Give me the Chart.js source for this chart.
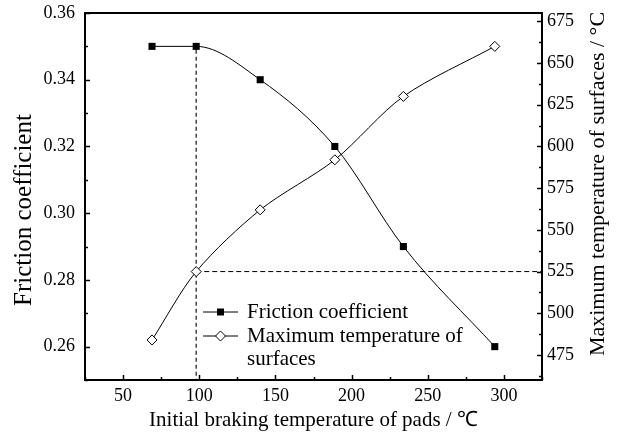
<!DOCTYPE html>
<html>
<head>
<meta charset="utf-8">
<script src="https://cdn.jsdelivr.net/npm/chart.js@4/dist/chart.umd.min.js"></script>
<style>
  body { margin: 0; background: #fff; }
  canvas { display: block; }
</style>
</head>
<body>
<canvas id="padChart" width="622" height="435"></canvas>
<script>
// —————— DATA ——————
const padTemps = [69, 98, 140, 189, 234, 294];          // initial braking temperature of pads, ℃
const frictionCoef = [0.35, 0.35, 0.34, 0.32, 0.29, 0.26];
const maxSurfTemp = [484, 525, 562, 592, 630, 660];      // maximum temperature of surfaces, ℃

const xTicks = [50, 100, 150, 200, 250, 300];
const yTicks = [0.26, 0.28, 0.30, 0.32, 0.34, 0.36];
const y2Ticks = [475, 500, 525, 550, 575, 600, 625, 650, 675];

// dashed guide lines
const markPadTemp = 98;
const markFriction = [0.349, 0.25];
const markSurfTemp = 525;

const serif = '"Liberation Serif", "Times New Roman", serif';

// minor ticks sit halfway between the major ones
function minorsOf(ticks, min, max) {
  const step = ticks[1] - ticks[0];
  const out = [];
  for (let v = ticks[0] - step / 2; v <= max + 1e-9; v += step) {
    if (v >= min - 1e-9) out.push(+v.toFixed(4));
  }
  return out;
}

// no extra room for half-labels at the axis ends, chart area is set by layout padding
function noEndPadding(s) {
  s.paddingTop = 0;
  s.paddingBottom = 0;
  s.paddingLeft = 0;
  s.paddingRight = 0;
}

// —————— FRAME, INWARD TICKS, Y TITLES, LEGEND ——————
const framePlugin = {
  id: 'frame',
  afterDraw(chart) {
    const { ctx, chartArea: a, scales } = chart;
    ctx.save();
    ctx.strokeStyle = '#000';
    ctx.lineWidth = 1.5;

    const tickSet = (scale, values, len, side) => {
      values.forEach(v => {
        const p = Math.round(scale.getPixelForValue(v)) + 0.5;
        ctx.beginPath();
        if (side === 'bottom') { ctx.moveTo(p, a.bottom); ctx.lineTo(p, a.bottom - len); }
        if (side === 'left') { ctx.moveTo(a.left, p); ctx.lineTo(a.left + len, p); }
        if (side === 'right') { ctx.moveTo(a.right, p); ctx.lineTo(a.right - len, p); }
        ctx.stroke();
      });
    };
    tickSet(scales.x, xTicks, 5, 'bottom');
    tickSet(scales.x, minorsOf(xTicks, 25, 325), 3, 'bottom');
    tickSet(scales.y, yTicks, 5, 'left');
    tickSet(scales.y, minorsOf(yTicks, 0.25, 0.36), 3, 'left');
    tickSet(scales.y2, y2Ticks, 5, 'right');
    tickSet(scales.y2, minorsOf(y2Ticks, 460, 680), 3, 'right');

    ctx.lineWidth = 2;
    ctx.strokeRect(a.left, a.top, a.right - a.left, a.bottom - a.top);

    // rotated axis titles, both read bottom-to-top
    ctx.fillStyle = '#000';
    ctx.textAlign = 'center';
    ctx.textBaseline = 'middle';
    const vTitle = (text, x, y, size) => {
      ctx.save();
      ctx.translate(x, y);
      ctx.rotate(-Math.PI / 2);
      ctx.font = size + 'px ' + serif;
      ctx.fillText(text, 0, 0);
      ctx.restore();
    };
    vTitle('Friction coefficient', 24, 210, 25);
    vTitle('Maximum temperature of surfaces / °C', 598, 184, 22);

    // legend inside the plot
    const lx = 203, lw = 35, tx = 247;
    const rows = [312, 336, 359];
    ctx.textAlign = 'left';
    ctx.lineWidth = 1;
    ctx.font = '21px ' + serif;

    ctx.beginPath();
    ctx.moveTo(lx, rows[0]); ctx.lineTo(lx + lw, rows[0]);
    ctx.stroke();
    ctx.fillRect(lx + lw / 2 - 3.5, rows[0] - 3.5, 7, 7);
    ctx.fillText(chart.data.datasets[0].label, tx, rows[0]);

    ctx.beginPath();
    ctx.moveTo(lx, rows[1]); ctx.lineTo(lx + lw, rows[1]);
    ctx.stroke();
    const cx = lx + lw / 2;
    ctx.beginPath();
    ctx.moveTo(cx, rows[1] - 5); ctx.lineTo(cx + 5, rows[1]);
    ctx.lineTo(cx, rows[1] + 5); ctx.lineTo(cx - 5, rows[1]);
    ctx.closePath();
    ctx.fillStyle = '#fff';
    ctx.fill();
    ctx.stroke();
    ctx.fillStyle = '#000';
    ctx.fillText('Maximum temperature of', tx, rows[1]);
    ctx.fillText('surfaces', tx, rows[2]);

    ctx.restore();
  }
};

new Chart(document.getElementById('padChart'), {
  type: 'line',
  data: {
    datasets: [
      {
        label: 'Friction coefficient',
        data: padTemps.map((t, i) => ({ x: t, y: frictionCoef[i] })),
        yAxisID: 'y',
        borderColor: '#000',
        borderWidth: 1,
        backgroundColor: '#000',
        pointStyle: 'rect',
        pointRadius: 5,
        pointBorderWidth: 0,
        cubicInterpolationMode: 'monotone'
      },
      {
        label: 'Maximum temperature of surfaces',
        data: padTemps.map((t, i) => ({ x: t, y: maxSurfTemp[i] })),
        yAxisID: 'y2',
        borderColor: '#000',
        borderWidth: 1,
        backgroundColor: '#fff',
        pointBackgroundColor: '#fff',
        pointBorderColor: '#000',
        pointBorderWidth: 1,
        pointStyle: 'rectRot',
        pointRadius: 5,
        tension: 0.3
      },
      {
        label: 'guide-v',
        data: markFriction.map(v => ({ x: markPadTemp, y: v })),
        yAxisID: 'y',
        borderColor: '#444',
        borderWidth: 1.5,
        borderDash: [4, 3],
        pointRadius: 0
      },
      {
        label: 'guide-h',
        data: [{ x: markPadTemp, y: markSurfTemp }, { x: 325, y: markSurfTemp }],
        yAxisID: 'y2',
        borderColor: '#000',
        borderWidth: 1,
        borderDash: [5, 3],
        pointRadius: 0
      }
    ]
  },
  options: {
    responsive: false,
    animation: false,
    layout: { padding: { top: 13, left: 0, right: 0, bottom: 0 } },
    plugins: {
      legend: { display: false },
      tooltip: { enabled: false }
    },
    scales: {
      x: {
        type: 'linear',
        min: 25,
        max: 325,
        afterBuildTicks: s => { s.ticks = xTicks.map(v => ({ value: v })); },
        afterFit: s => { s.height = 55; noEndPadding(s); },
        grid: { display: false, drawTicks: false },
        border: { display: false },
        ticks: { color: '#000', padding: 5, maxRotation: 0, font: { family: serif, size: 18 } },
        title: {
          display: true,
          text: 'Initial braking temperature of pads / ℃',
          color: '#000',
          padding: { top: 0, bottom: 2 },
          font: { family: serif, size: 21 }
        }
      },
      y: {
        position: 'left',
        min: 0.25,
        max: 0.36,
        afterBuildTicks: s => { s.ticks = yTicks.map(v => ({ value: v })); },
        afterFit: s => { s.width = 85; noEndPadding(s); },
        grid: { display: false, drawTicks: false },
        border: { display: false },
        ticks: { color: '#000', padding: 10, callback: v => v.toFixed(2), font: { family: serif, size: 18 } }
      },
      y2: {
        position: 'right',
        min: 460,
        max: 680,
        afterBuildTicks: s => { s.ticks = y2Ticks.map(v => ({ value: v })); },
        afterFit: s => { s.width = 80; noEndPadding(s); },
        grid: { display: false, drawTicks: false },
        border: { display: false },
        ticks: { color: '#000', padding: 5, font: { family: serif, size: 18 } }
      }
    }
  },
  plugins: [framePlugin]
});
</script>
</body>
</html>
